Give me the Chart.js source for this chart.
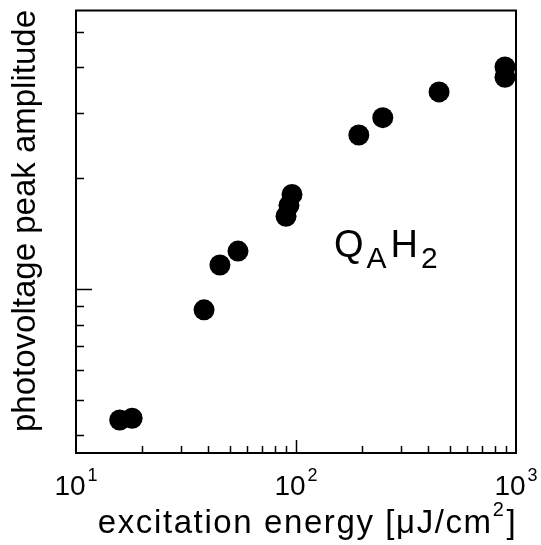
<!DOCTYPE html>
<html lang="en">
<head>
  <meta charset="UTF-8">
  <title>Photovoltage peak amplitude vs excitation energy</title>
  <script src="https://cdn.jsdelivr.net/npm/chart.js@4.4.1"></script>
  <style>
    html,body{margin:0;padding:0;background:#fff;}
    .wrap{position:relative;width:541px;height:545px;}
  </style>
</head>
<body>
<div class="wrap"><canvas id="plot"></canvas></div>

<script>
// data (y in arbitrary units, log axis)
const energy    = [15.8, 18.0, 38.2, 45.1, 54.5, 90.1, 92.9, 95.9, 193, 248, 447, 891, 891];
const amplitude = [0.440, 0.445, 0.877, 1.161, 1.267, 1.575, 1.687, 1.806, 2.62, 2.92, 3.43, 3.76, 4.01];

const xMajor = [100];
const xMinor = [20,30,40,50,60,70,80,90,200,300,400,500,600,700,800,900];
const xLabels = [10,100,1000];
const yMajor = [1];
const yMinor = [0.4,0.5,0.6,0.7,0.8,0.9,2,3,4,5];

const FONT = '"Liberation Sans", Arial, Helvetica, sans-serif';

// frame, inward ticks, labels with superscripts, annotation
const decor = {
  id:'decor',
  afterDraw(chart){
    const c=chart.ctx, a=chart.chartArea, xs=chart.scales.x, ys=chart.scales.y;
    c.save();
    c.strokeStyle='#000';c.lineWidth=2;
    c.strokeRect(a.left,a.top,a.right-a.left,a.bottom-a.top);
    c.lineWidth=1.5;
    c.beginPath();
    xMinor.forEach(v=>{const p=Math.round(xs.getPixelForValue(v))+0.5;c.moveTo(p,a.bottom);c.lineTo(p,a.bottom-7);});
    xMajor.forEach(v=>{const p=Math.round(xs.getPixelForValue(v))+0.5;c.moveTo(p,a.bottom);c.lineTo(p,a.bottom-13);});
    yMinor.forEach(v=>{const p=Math.round(ys.getPixelForValue(v))+0.5;c.moveTo(a.left,p);c.lineTo(a.left+8,p);});
    yMajor.forEach(v=>{const p=Math.round(ys.getPixelForValue(v))+0.5;c.moveTo(a.left,p);c.lineTo(a.left+16,p);});
    c.stroke();

    c.fillStyle='#000';c.textBaseline='alphabetic';
    // tick labels 10^n
    xLabels.forEach(v=>{
      const p=xs.getPixelForValue(v), e=String(Math.round(Math.log10(v)));
      c.font='28px '+FONT; const wb=c.measureText('10').width;
      c.font='18px '+FONT; const we=c.measureText(e).width;
      let x0=p-(wb+2+we)/2;
      c.textAlign='left';
      c.font='28px '+FONT; c.fillText('10',x0,495);
      c.font='18px '+FONT; c.fillText(e,x0+wb+2,481);
    });
    // x title
    c.letterSpacing='1.6px';
    const t1='excitation energy [\u03bcJ/cm', t2=']';
    c.font='33px '+FONT; const w1=c.measureText(t1).width, w3=c.measureText(t2).width;
    c.font='20px '+FONT; const w2=c.measureText('2').width;
    let tx=307-(w1+w2+w3)/2;
    c.font='33px '+FONT; c.fillText(t1,tx,533);
    c.font='20px '+FONT; c.fillText('2',tx+w1,516);
    c.font='33px '+FONT; c.fillText(t2,tx+w1+w2+1,533);
    c.letterSpacing='0px';
    // y title
    c.save();
    c.translate(35,221);c.rotate(-Math.PI/2);
    c.textAlign='center';c.font='33px '+FONT;
    c.fillText('photovoltage peak amplitude',0,0);
    c.restore();
    // Q_A H_2
    let qx=334;
    c.textAlign='left';
    c.font='38px '+FONT; c.fillText('Q',qx,257); qx+=c.measureText('Q').width+3;
    c.font='30px '+FONT; c.fillText('A',qx,268); qx+=c.measureText('A').width+4;
    c.font='38px '+FONT; c.fillText('H',qx,257); qx+=c.measureText('H').width+3;
    c.font='30px '+FONT; c.fillText('2',qx,268);
    c.restore();
  }
};

new Chart(document.getElementById('plot'),{
  type:'scatter',
  data:{datasets:[{
    data:energy.map((e,i)=>({x:e,y:amplitude[i]})),
    backgroundColor:'#000',borderWidth:0,pointRadius:10.5,pointHoverRadius:10.5
  }]},
  options:{
    responsive:true,maintainAspectRatio:false,animation:false,
    layout:{padding:{top:8,right:25,left:0,bottom:0}},
    plugins:{legend:{display:false},tooltip:{enabled:false}},
    scales:{
      x:{type:'logarithmic',min:10,max:1000,
        ticks:{display:false},grid:{display:false},border:{display:false},
        afterFit(s){s.height=92;}},
      y:{type:'logarithmic',min:0.358,max:5.71,
        ticks:{display:false},grid:{display:false},border:{display:false},
        afterFit(s){s.width=76;}}
    }
  },
  plugins:[decor]
});
</script>
</body>
</html>
